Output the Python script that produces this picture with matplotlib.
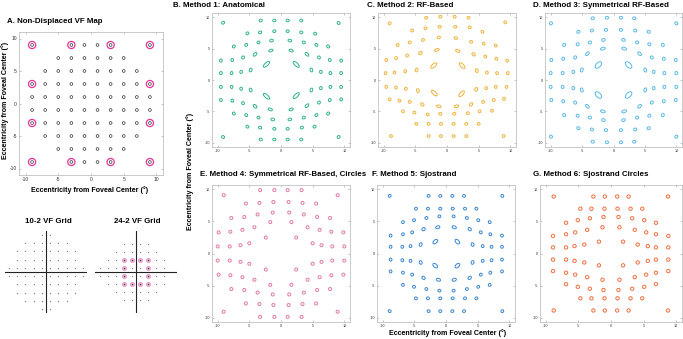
import numpy as np
import matplotlib.pyplot as plt
from matplotlib.patches import Ellipse

plt.rcParams['font.family'] = ['Liberation Sans', 'DejaVu Sans']
plt.rcParams['axes.unicode_minus'] = False

# ---- non-displaced test locations (10-2 grid + 24-2 points inside +-10 deg), row by row
grid_x = [-9, -3, -1, 1, 3, 9,
          -5, -3, -1, 1, 3, 5,
          -7, -5, -3, -1, 1, 3, 5, 7,
          -9, -7, -5, -3, -1, 1, 3, 5, 7, 9,
          -9, -7, -5, -3, -1, 1, 3, 5, 7, 9,
          -9, -7, -5, -3, -1, 1, 3, 5, 7, 9,
          -9, -7, -5, -3, -1, 1, 3, 5, 7, 9,
          -7, -5, -3, -1, 1, 3, 5, 7,
          -5, -3, -1, 1, 3, 5,
          -9, -3, -1, 1, 3, 9]
grid_y = [9, 9, 9, 9, 9, 9,
          7, 7, 7, 7, 7, 7,
          5, 5, 5, 5, 5, 5, 5, 5,
          3, 3, 3, 3, 3, 3, 3, 3, 3, 3,
          1, 1, 1, 1, 1, 1, 1, 1, 1, 1,
          -1, -1, -1, -1, -1, -1, -1, -1, -1, -1,
          -3, -3, -3, -3, -3, -3, -3, -3, -3, -3,
          -5, -5, -5, -5, -5, -5, -5, -5,
          -7, -7, -7, -7, -7, -7,
          -9, -9, -9, -9, -9, -9]

# 24-2 points that fall inside the central 10 deg (magenta)
ring_x = [-9, -3, 3, 9, -9, 9, -9, 9, -9, -3, 3, 9]
ring_y = [9, 9, 9, 9, 3, 3, -3, -3, -9, -9, -9, -9]

# 24-2 grid
vf242_x = [-9, -3, 3, 9,
           -15, -9, -3, 3, 9, 15,
           -21, -15, -9, -3, 3, 9, 15, 21,
           -27, -21, -15, -9, -3, 3, 9, 15, 21,
           -27, -21, -15, -9, -3, 3, 9, 15, 21,
           -21, -15, -9, -3, 3, 9, 15, 21,
           -15, -9, -3, 3, 9, 15,
           -9, -3, 3, 9]
vf242_y = [21, 21, 21, 21,
           15, 15, 15, 15, 15, 15,
           9, 9, 9, 9, 9, 9, 9, 9,
           3, 3, 3, 3, 3, 3, 3, 3, 3,
           -3, -3, -3, -3, -3, -3, -3, -3, -3,
           -9, -9, -9, -9, -9, -9, -9, -9,
           -15, -15, -15, -15, -15, -15,
           -21, -21, -21, -21]

# ---- displaced locations, same order as grid_x / grid_y
m1_x = [-9.15, -3.2, -1.05, 1.05, 3.2, 9.1,
        -5.3, -3.3, -1.05, 1.05, 3.2, 5.4,
        -7.45, -5.5, -3.55, -1.5, 1.4, 3.6, 5.6, 7.45,
        -9.5, -7.7, -6.0, -4.1, -1.6, 1.6, 4.1, 6.0, 7.7, 9.5,
        -9.5, -7.8, -6.3, -4.8, -2.3, 2.4, 4.8, 6.3, 7.8, 9.5,
        -9.5, -7.8, -6.3, -4.8, -2.3, 2.4, 4.8, 6.3, 7.8, 9.5,
        -9.5, -7.7, -6.0, -4.1, -1.7, 1.6, 4.1, 6.0, 7.7, 9.5,
        -7.45, -5.5, -3.55, -1.3, 1.4, 3.6, 5.6, 7.45,
        -5.3, -3.3, -1.05, 1.05, 3.3, 5.3,
        -9.15, -3.2, -1.05, 1.05, 3.2, 9.1]
m1_y = [9.15, 9.5, 9.5, 9.5, 9.5, 9.1,
        7.45, 7.6, 7.8, 7.8, 7.6, 7.4,
        5.35, 5.6, 6.0, 6.3, 6.3, 6.0, 5.6, 5.35,
        3.1, 3.2, 3.6, 4.1, 4.7, 4.7, 4.1, 3.6, 3.2, 3.1,
        1.1, 1.1, 1.3, 1.6, 2.5, 2.5, 1.6, 1.3, 1.1, 1.1,
        -1.1, -1.1, -1.4, -1.6, -2.6, -2.5, -1.6, -1.3, -1.1, -1.1,
        -3.2, -3.3, -3.7, -4.2, -4.7, -4.7, -4.1, -3.6, -3.2, -3.1,
        -5.35, -5.6, -6.0, -6.3, -6.3, -6.0, -5.6, -5.35,
        -7.45, -7.6, -7.8, -7.8, -7.6, -7.45,
        -9.1, -9.5, -9.5, -9.5, -9.5, -9.1]

m2_x = [-9.05, -3.3, -1.05, 1.2, 3.4, 9.2,
        -5.5, -3.4, -1.15, 1.3, 3.6, 5.6,
        -7.8, -5.9, -3.8, -1.3, 1.4, 3.8, 5.8, 7.7,
        -9.6, -8.05, -6.3, -4.2, -1.6, 1.7, 4.2, 6.05, 7.8, 9.5,
        -9.7, -8.3, -6.6, -4.8, -2.1, 2.4, 4.7, 6.3, 7.9, 9.6,
        -9.6, -8.05, -6.5, -4.6, -2.0, 2.3, 4.6, 6.2, 7.7, 9.4,
        -9.05, -7.5, -5.9, -3.9, -1.3, 1.5, 3.8, 5.7, 7.4, 9.0,
        -6.95, -5.15, -3.05, -1.05, 1.15, 3.3, 5.15, 7.1,
        -4.85, -2.9, -0.95, 1.05, 3.05, 5.0,
        -8.85, -2.9, -0.95, 1.05, 3.05, 8.95]
m2_y = [9.05, 9.95, 10.1, 10.1, 9.95, 9.2,
        7.9, 8.25, 8.5, 8.5, 8.4, 7.7,
        5.6, 6.0, 6.4, 6.8, 6.7, 6.1, 5.8, 5.5,
        3.2, 3.5, 3.9, 4.3, 4.8, 4.65, 4.1, 3.75, 3.4, 3.1,
        1.1, 1.2, 1.4, 1.6, 2.3, 2.3, 1.5, 1.2, 1.1, 1.1,
        -1.1, -1.2, -1.4, -1.7, -2.1, -2.2, -1.5, -1.3, -1.1, -1.1,
        -3.1, -3.3, -3.5, -3.9, -4.2, -4.2, -3.9, -3.5, -3.2, -3.0,
        -5.0, -5.2, -5.5, -5.4, -5.4, -5.3, -5.0, -4.9,
        -7.0, -7.0, -7.0, -7.0, -7.0, -7.0,
        -8.95, -8.95, -8.95, -8.95, -8.95, -8.95]

m3_x = [-9.95, -3.3, -1.05, 1.2, 3.3, 10.0,
        -5.6, -3.45, -1.2, 1.2, 3.45, 5.6,
        -7.85, -5.7, -3.75, -1.6, 1.6, 3.75, 5.7, 7.85,
        -9.9, -8.0, -6.1, -4.15, -1.7, 1.7, 4.15, 6.1, 8.0, 9.9,
        -10.0, -8.1, -6.4, -5.05, -2.4, 2.4, 5.05, 6.4, 8.1, 10.0,
        -10.0, -8.1, -6.4, -5.05, -2.4, 2.4, 5.05, 6.4, 8.1, 10.0,
        -9.9, -8.0, -6.1, -4.15, -1.7, 1.7, 4.15, 6.1, 8.0, 9.9,
        -7.85, -5.7, -3.75, -1.6, 1.6, 3.75, 5.7, 7.85,
        -5.6, -3.45, -1.2, 1.2, 3.45, 5.6,
        -9.95, -3.3, -1.05, 1.2, 3.3, 10.0]
m3_y = [9.05, 9.85, 9.95, 9.95, 9.85, 9.05,
        7.7, 7.9, 8.0, 8.0, 7.9, 7.7,
        5.6, 5.7, 6.0, 6.4, 6.4, 6.0, 5.7, 5.6,
        3.2, 3.4, 3.6, 4.2, 5.0, 5.0, 4.2, 3.6, 3.4, 3.2,
        1.1, 1.1, 1.3, 1.6, 2.4, 2.4, 1.6, 1.3, 1.1, 1.1,
        -1.1, -1.1, -1.3, -1.6, -2.4, -2.4, -1.6, -1.3, -1.1, -1.1,
        -3.2, -3.4, -3.6, -4.2, -5.0, -5.0, -4.2, -3.6, -3.4, -3.2,
        -5.6, -5.7, -6.0, -6.4, -6.4, -6.0, -5.7, -5.6,
        -7.7, -7.9, -8.0, -8.0, -7.9, -7.7,
        -9.05, -9.85, -9.95, -9.95, -9.85, -9.05]

m4_x = [-9.05, -3.3, -1.05, 1.05, 3.25, 8.95,
        -5.55, -3.4, -1.2, 1.2, 3.4, 5.55,
        -7.85, -5.8, -3.7, -1.3, 1.3, 3.6, 5.7, 7.75,
        -9.85, -8.0, -6.1, -4.2, -1.7, 1.65, 4.2, 6.1, 7.95, 9.85,
        -10.0, -8.1, -6.4, -5.0, -2.4, 2.4, 5.0, 6.4, 8.1, 10.0,
        -10.0, -8.1, -6.4, -5.0, -2.4, 2.4, 5.0, 6.4, 8.1, 10.0,
        -9.85, -8.0, -6.1, -4.2, -1.7, 1.65, 4.2, 6.1, 7.95, 9.85,
        -7.85, -5.8, -3.7, -1.3, 1.3, 3.6, 5.7, 7.75,
        -5.55, -3.4, -1.2, 1.2, 3.4, 5.55,
        -9.05, -3.3, -1.05, 1.05, 3.25, 8.95]
m4_y = [9.1, 9.9, 9.9, 9.9, 9.9, 9.1,
        7.8, 7.9, 8.05, 8.05, 7.9, 7.8,
        5.55, 5.7, 6.1, 6.4, 6.4, 6.1, 5.7, 5.55,
        3.3, 3.4, 3.7, 4.1, 4.9, 4.9, 4.1, 3.7, 3.4, 3.3,
        1.1, 1.1, 1.3, 1.6, 2.5, 2.5, 1.6, 1.3, 1.1, 1.1,
        -1.1, -1.1, -1.3, -1.6, -2.5, -2.5, -1.6, -1.3, -1.1, -1.1,
        -3.3, -3.4, -3.7, -4.1, -4.9, -4.9, -4.1, -3.7, -3.4, -3.3,
        -5.55, -5.7, -6.1, -6.4, -6.4, -6.1, -5.7, -5.55,
        -7.8, -7.9, -8.05, -8.05, -7.9, -7.8,
        -9.1, -9.9, -9.9, -9.9, -9.9, -9.1]

m5_x = [-8.9, -2.75, -0.9, 1.0, 2.85, 8.9,
        -4.75, -2.85, -0.9, 1.05, 3.0, 4.8,
        -6.8, -5.05, -3.1, -1.05, 1.2, 3.3, 5.1, 6.9,
        -8.75, -6.8, -5.35, -3.55, -1.3, 1.3, 3.75, 5.5, 7.0, 8.85,
        -8.75, -6.9, -5.6, -4.0, -1.7, 1.8, 4.2, 5.8, 7.2, 8.85,
        -8.75, -6.9, -5.6, -4.0, -1.7, 1.8, 4.2, 5.8, 7.2, 8.85,
        -8.75, -6.8, -5.35, -3.55, -1.2, 1.3, 3.75, 5.5, 7.0, 8.85,
        -6.8, -5.05, -3.1, -1.05, 1.2, 3.3, 5.1, 6.9,
        -4.75, -2.85, -0.9, 1.05, 3.0, 4.8,
        -8.9, -2.75, -0.9, 1.0, 2.85, 8.9]
m5_y = [9.0, 9.0, 9.0, 9.0, 9.0, 9.0,
        7.0, 7.0, 7.0, 7.0, 7.0, 7.0,
        4.9, 5.2, 5.55, 5.8, 5.8, 5.55, 5.2, 4.9,
        2.8, 3.0, 3.3, 3.8, 4.1, 4.1, 3.8, 3.3, 3.0, 2.8,
        1.05, 1.05, 1.15, 1.4, 1.85, 1.85, 1.4, 1.15, 1.05, 1.05,
        -0.95, -1.05, -1.15, -1.4, -1.9, -1.9, -1.4, -1.15, -1.05, -0.95,
        -2.8, -3.0, -3.3, -3.8, -4.1, -4.1, -3.8, -3.3, -3.0, -2.8,
        -4.9, -5.2, -5.55, -5.8, -5.8, -5.55, -5.2, -4.9,
        -7.0, -7.0, -7.0, -7.0, -7.0, -7.0,
        -9.0, -9.0, -9.0, -9.0, -9.0, -9.0]

m6_x = [-8.8, -2.7, -0.95, 0.95, 2.7, 8.75,
        -4.7, -3.0, -1.0, 1.0, 3.0, 4.8,
        -6.9, -5.1, -3.25, -1.15, 1.15, 3.25, 5.1, 6.9,
        -8.9, -6.9, -5.5, -3.65, -1.3, 1.3, 3.65, 5.4, 6.9, 8.8,
        -8.9, -6.9, -5.6, -4.1, -1.85, 1.85, 4.1, 5.65, 6.9, 8.8,
        -8.9, -6.9, -5.6, -4.1, -1.85, 1.85, 4.1, 5.65, 6.9, 8.8,
        -8.9, -6.9, -5.5, -3.65, -1.3, 1.3, 3.65, 5.4, 6.9, 8.8,
        -6.9, -5.1, -3.25, -1.15, 1.15, 3.25, 5.1, 6.9,
        -4.7, -3.0, -1.0, 1.0, 3.0, 4.8,
        -8.8, -2.7, -0.95, 0.95, 2.7, 8.75]
m6_y = [8.9, 8.9, 8.9, 8.9, 8.9, 8.9,
        7.0, 7.0, 7.0, 7.0, 7.0, 7.0,
        4.8, 5.2, 5.5, 5.7, 5.7, 5.5, 5.2, 4.8,
        2.75, 3.0, 3.3, 3.7, 4.1, 4.1, 3.7, 3.3, 3.0, 2.75,
        0.95, 0.95, 1.15, 1.4, 1.85, 1.85, 1.4, 1.15, 0.95, 0.95,
        -0.95, -0.95, -1.15, -1.4, -1.85, -1.85, -1.4, -1.15, -0.95, -0.95,
        -2.75, -3.0, -3.3, -3.7, -4.1, -4.1, -3.7, -3.3, -3.0, -2.75,
        -4.8, -5.2, -5.5, -5.7, -5.7, -5.5, -5.2, -4.8,
        -7.0, -7.0, -7.0, -7.0, -7.0, -7.0,
        -8.9, -8.9, -8.9, -8.9, -8.9, -8.9]

# RF outline size (long, short axis in deg) by |base x|, |base y|
m1_shape = {(1, 1): (1.25, 0.5), (3, 1): (0.62, 0.42), (3, 3): (0.7, 0.42), (1, 3): (0.7, 0.4), (1, 5): (0.58, 0.42)}
m2_shape = {(1, 1): (1.15, 0.52), (3, 1): (0.62, 0.42), (3, 3): (0.62, 0.42), (1, 3): (0.72, 0.4), (1, 5): (0.52, 0.42)}
m3_shape = {(1, 1): (1.3, 0.72), (3, 1): (0.68, 0.42), (3, 3): (0.72, 0.42), (1, 3): (0.78, 0.42), (1, 5): (0.58, 0.44)}
m5_shape = {(1, 1): (0.88, 0.52), (1, 3): (0.68, 0.44), (3, 1): (0.58, 0.44), (3, 3): (0.58, 0.44)}

W, H = 683, 339
fig = plt.figure(figsize=(W / 100, H / 100), dpi=100)


def add_ax(x0, y0, x1, y1):
    return fig.add_axes([x0 / W, 1 - y1 / H, (x1 - x0) / W, (y1 - y0) / H])


def box(ax, xl, yl, fs):
    ax.set_xlim(xl)
    ax.set_ylim(yl)
    ax.set_xticks([-10, -5, 0, 5, 10])
    ax.set_yticks([-10, -5, 0, 5, 10])
    ax.tick_params(direction='in', length=1.5, width=0.4, color='#999999',
                   labelsize=fs, labelcolor='#333333', pad=1.5, top=True, right=True)
    for s in ax.spines.values():
        s.set_linewidth(0.5)
        s.set_color('#b5b5b5')


def panel(ax, xs, ys, shapes, default, color):
    for x, y, bx, by in zip(xs, ys, grid_x, grid_y):
        w, h = shapes.get((abs(bx), abs(by)), default)
        ang = np.degrees(np.arctan2(y, x)) + 90
        ax.add_patch(Ellipse((x, y), w, h, angle=ang, fill=False, ec=color, lw=0.7))


# A. non-displaced map
ax = add_ax(19, 32, 163, 175)
box(ax, (-11, 11), (-11, 11), 3.6)
for x, y in zip(grid_x, grid_y):
    ax.add_patch(Ellipse((x, y), 0.42, 0.42, fill=False, ec='#333333', lw=0.5))
for x, y in zip(ring_x, ring_y):
    ax.add_patch(Ellipse((x, y), 1.1, 1.1, fill=False, ec='#e4349c', lw=0.9))
fig.text(7 / W, 1 - 21.5 / H, 'A. Non-Displaced VF Map', fontsize=5.7, fontweight='bold', va='center')
fig.text(90 / W, 1 - 190 / H, 'Eccentricity from Foveal Center (°)', fontsize=5.1,
         fontweight='bold', ha='center', va='center')
fig.text(5 / W, 1 - 100 / H, 'Eccentricity from Foveal Center (°)', fontsize=5.1,
         fontweight='bold', ha='center', va='center', rotation=90)

# small 10-2 / 24-2 grids
ring_set = set(zip(ring_x, ring_y))
g10 = [(x, y) for x, y in zip(grid_x, grid_y) if (x, y) not in ring_set]
ax = add_ax(5, 231, 87, 313)
ax.axis('off')
ax.set_xlim(-9.85, 9.85)
ax.set_ylim(-9.85, 9.85)
ax.axhline(0, color='#222222', lw=0.8)
ax.axvline(0, color='#222222', lw=0.8)
ax.plot([p[0] for p in g10], [p[1] for p in g10], 's', ms=0.9, mew=0, color='#8a8a8a')
fig.text(48 / W, 1 - 221.7 / H, '10-2 VF Grid', fontsize=5.7, fontweight='bold', ha='center', va='center')

ax = add_ax(95, 231, 177, 313)
ax.axis('off')
ax.set_xlim(-30.5, 30.5)
ax.set_ylim(-30.5, 30.5)
ax.axhline(0, color='#222222', lw=0.8)
ax.axvline(0, color='#222222', lw=0.8)
ax.plot(ring_x, ring_y, 'o', ms=3.0, mfc='#f8c0e0', mec='#ef86c6', mew=0.5)
ax.plot(vf242_x, vf242_y, 's', ms=0.9, mew=0, color='#8a8a8a')
ax.plot(ring_x, ring_y, 's', ms=0.9, mew=0, color='#333333')
fig.text(137 / W, 1 - 221.7 / H, '24-2 VF Grid', fontsize=5.7, fontweight='bold', ha='center', va='center')

# B-G displaced maps
panels = [
    ((212, 13, 350, 147), m1_x, m1_y, m1_shape, (0.5, 0.42), '#2fb38a', 'B. Method 1: Anatomical', 173, 5.5),
    ((378, 13, 516, 147), m2_x, m2_y, m2_shape, (0.47, 0.42), '#f0b23a', 'C. Method 2: RF-Based', 367, 5.5),
    ((545, 13, 682, 147), m3_x, m3_y, m3_shape, (0.52, 0.44), '#5ab9e8', 'D. Method 3: Symmetrical RF-Based', 533, 5.5),
    ((212, 185, 350, 322), m4_x, m4_y, {}, (0.48, 0.48), '#e27aa6', 'E. Method 4: Symmetrical RF-Based, Circles', 200, 175),
    ((377, 185, 515, 322), m5_x, m5_y, m5_shape, (0.47, 0.42), '#3a86cf', 'F. Method 5: Sjostrand', 372, 175),
    ((540, 185, 682, 322), m6_x, m6_y, {}, (0.52, 0.52), '#ef6f3f', 'G. Method 6: Sjostrand Circles', 533, 175),
]
for rect, xs, ys, shp, dflt, col, title, tx, ty in panels:
    ax = add_ax(*rect)
    box(ax, (-10.9, 10.9), (-10.7, 10.7), 2.7)
    panel(ax, xs, ys, shp, dflt, col)
    fig.text(tx / W, 1 - ty / H, title, fontsize=5.7, fontweight='bold', va='center')

fig.text(190 / W, 1 - 171 / H, 'Eccentricity from Foveal Center (°)', fontsize=5.1,
         fontweight='bold', ha='center', va='center', rotation=90)
fig.text(448 / W, 1 - 333 / H, 'Eccentricity from Foveal Center (°)', fontsize=5.1,
         fontweight='bold', ha='center', va='center')

fig.savefig('out.png', dpi=100)
